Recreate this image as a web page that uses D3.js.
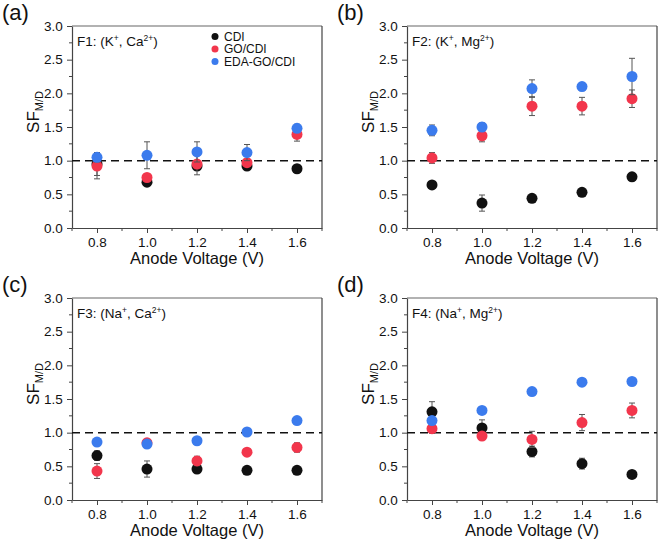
<!DOCTYPE html>
<html><head><meta charset="utf-8">
<script src="https://cdn.jsdelivr.net/npm/d3@7"></script>
<style>body{margin:0;background:#fff;} text{font-family:"Liberation Sans",Arial,sans-serif;}</style>
</head><body>
<svg id="c" width="661" height="540"></svg>
<script>
const voltages = [0.8, 1.0, 1.2, 1.4, 1.6];
const xTicks = [0.8, 1.0, 1.2, 1.4, 1.6];
const yTicks = [0.0, 0.5, 1.0, 1.5, 2.0, 2.5, 3.0];
const seriesNames = ["CDI", "GO/CDI", "EDA-GO/CDI"];
const seriesColors = ["#111111", "#f2364c", "#3b7bed"];
const panelLabels = ["(a)", "(b)", "(c)", "(d)"];
const panelTitles = [["F1: (K", "+", ", Ca", "2+", ")"], ["F2: (K", "+", ", Mg", "2+", ")"], ["F3: (Na", "+", ", Ca", "2+", ")"], ["F4: (Na", "+", ", Mg", "2+", ")"]];

// F1
const f1CDI = [0.95, 0.68, 0.92, 0.92, 0.88];
const f1CDIerr = [0.17, 0.03, 0.04, 0.04, 0.02];
const f1GO = [0.92, 0.75, 0.95, 0.97, 1.39];
const f1GOerr = [0.19, 0.04, 0.16, 0.05, 0.10];
const f1EDA = [1.05, 1.08, 1.13, 1.12, 1.48];
const f1EDAerr = [0.07, 0.20, 0.15, 0.12, 0.06];
// F2
const f2CDI = [0.64, 0.37, 0.44, 0.53, 0.76];
const f2CDIerr = [0.02, 0.12, 0.02, 0.03, 0.02];
const f2GO = [1.04, 1.37, 1.81, 1.81, 1.92];
const f2GOerr = [0.08, 0.09, 0.14, 0.13, 0.13];
const f2EDA = [1.45, 1.50, 2.07, 2.10, 2.25];
const f2EDAerr = [0.08, 0.06, 0.13, 0.06, 0.27];
// F3
const f3CDI = [0.66, 0.46, 0.46, 0.44, 0.44];
const f3CDIerr = [0.07, 0.12, 0.02, 0.02, 0.02];
const f3GO = [0.43, 0.85, 0.58, 0.71, 0.78];
const f3GOerr = [0.11, 0.04, 0.07, 0.04, 0.07];
const f3EDA = [0.86, 0.83, 0.88, 1.01, 1.18];
const f3EDAerr = [0.02, 0.05, 0.02, 0.02, 0.02];
// F4
const f4CDI = [1.31, 1.07, 0.72, 0.54, 0.38];
const f4CDIerr = [0.15, 0.12, 0.08, 0.08, 0.02];
const f4GO = [1.06, 0.95, 0.90, 1.15, 1.33];
const f4GOerr = [0.07, 0.04, 0.12, 0.12, 0.11];
const f4EDA = [1.18, 1.33, 1.61, 1.75, 1.76];
const f4EDAerr = [0.03, 0.02, 0.02, 0.02, 0.02];

const panels = [
  {vals:[f1CDI,f1GO,f1EDA], errs:[f1CDIerr,f1GOerr,f1EDAerr], x0:72, y0:26, legend:true},
  {vals:[f2CDI,f2GO,f2EDA], errs:[f2CDIerr,f2GOerr,f2EDAerr], x0:407, y0:26},
  {vals:[f3CDI,f3GO,f3EDA], errs:[f3CDIerr,f3GOerr,f3EDAerr], x0:72, y0:298},
  {vals:[f4CDI,f4GO,f4EDA], errs:[f4CDIerr,f4GOerr,f4EDAerr], x0:407, y0:298}
];
const W = 250, H = 202;
const svg = d3.select("#c");

panels.forEach((p, pi) => {
  const g = svg.append("g").attr("transform", `translate(${p.x0},${p.y0})`);
  const x = d3.scaleLinear().domain([0.7, 1.7]).range([0, W]);
  const y = d3.scaleLinear().domain([0, 3]).range([H, 0]);

  const xMinor = d3.range(0.7, 1.71, 0.1).map(v => +v.toFixed(2)).filter(v => !xTicks.some(t => Math.abs(t - v) < 1e-6));
  const yMinor = [0.25, 0.75, 1.25, 1.75, 2.25, 2.75];
  g.append("g").selectAll("line").data(xMinor).join("line")
    .attr("x1", d => x(d)).attr("x2", d => x(d)).attr("y1", H).attr("y2", H + 3)
    .attr("stroke", "#444").attr("stroke-width", 1);
  g.append("g").selectAll("line").data(yMinor).join("line")
    .attr("x1", 0).attr("x2", -3).attr("y1", d => y(d)).attr("y2", d => y(d))
    .attr("stroke", "#444").attr("stroke-width", 1);

  const xAxis = g.append("g").attr("transform", `translate(0,${H})`)
    .call(d3.axisBottom(x).tickValues(xTicks).tickFormat(d3.format(".1f")).tickSize(5).tickSizeOuter(0));
  const yAxis = g.append("g")
    .call(d3.axisLeft(y).tickValues(yTicks).tickFormat(d3.format(".1f")).tickSize(5).tickSizeOuter(0));
  [xAxis, yAxis].forEach(a => {
    a.select(".domain").attr("stroke", "#444").attr("stroke-width", 1.2);
    a.selectAll(".tick line").attr("stroke", "#444");
    a.selectAll(".tick text").attr("font-size", 13.5).attr("fill", "#111")
      .attr("font-family", "Liberation Sans, Arial, sans-serif");
  });
  xAxis.selectAll(".tick text").attr("dy", "0.85em");
  yAxis.selectAll(".tick text").attr("dx", "-0.1em");

  g.append("line").attr("x1", 0).attr("x2", W).attr("y1", 0).attr("y2", 0).attr("stroke", "#666").attr("stroke-width", 1.2);
  g.append("line").attr("x1", W).attr("x2", W).attr("y1", 0).attr("y2", H).attr("stroke", "#444").attr("stroke-width", 1.2);

  g.append("line").attr("x1", 0).attr("x2", W).attr("y1", y(1)).attr("y2", y(1))
    .attr("stroke", "#111").attr("stroke-width", 1.5).attr("stroke-dasharray", "8,5");

  p.vals.forEach((vals, si) => {
    const errs = p.errs[si];
    const sg = g.append("g");
    const data = voltages.map((v, i) => ({v, val: vals[i], e: errs[i]}));
    sg.selectAll(".eb").data(data).join("path").attr("class", "eb")
      .attr("d", d => `M${x(d.v)-3},${y(d.val+d.e)}H${x(d.v)+3}M${x(d.v)},${y(d.val+d.e)}V${y(d.val-d.e)}M${x(d.v)-3},${y(d.val-d.e)}H${x(d.v)+3}`)
      .attr("stroke", "#555").attr("stroke-width", 1).attr("fill", "none");
    sg.selectAll("circle").data(data).join("circle")
      .attr("cx", d => x(d.v)).attr("cy", d => y(d.val)).attr("r", 5.5)
      .attr("fill", seriesColors[si]);
  });

  const t = g.append("text").attr("x", 5).attr("y", 20).attr("font-size", 13.5).attr("fill", "#111");
  panelTitles[pi].forEach((s, k) => {
    const ts = t.append("tspan").text(s);
    if (k % 2 === 1) ts.attr("font-size", 8.5).attr("dy", -5);
    else if (k > 0) ts.attr("dy", 5);
  });

  g.append("text").attr("x", W / 2).attr("y", H + 36).attr("text-anchor", "middle")
    .attr("font-size", 16.5).attr("fill", "#111").text("Anode Voltage (V)");
  const yt = g.append("text").attr("transform", `translate(-33,${H/2 - 15}) rotate(-90)`)
    .attr("text-anchor", "middle").attr("font-size", 17).attr("fill", "#111");
  yt.append("tspan").text("SF");
  yt.append("tspan").attr("font-size", 11).attr("dy", 4).text("M/D");

  svg.append("text").attr("x", p.x0 - 70).attr("y", p.y0 - 6).attr("font-size", 22).attr("fill", "#111").text(panelLabels[pi]);

  if (p.legend) {
    const lg = g.append("g").attr("transform", `translate(143,10.5)`);
    seriesNames.forEach((n, i) => {
      lg.append("circle").attr("cx", 0).attr("cy", i * 12.5).attr("r", 3.5).attr("fill", seriesColors[i]);
      lg.append("text").attr("x", 9).attr("y", i * 12.5 + 4.3).attr("font-size", 12).attr("fill", "#111").text(n);
    });
  }
});
</script>
</body></html>
